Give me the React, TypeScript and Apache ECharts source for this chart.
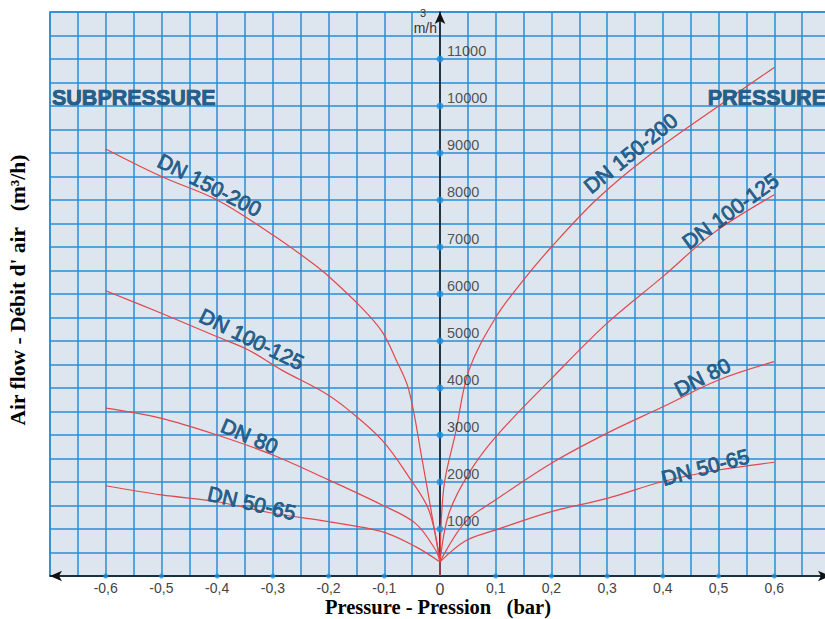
import React, { useEffect, useRef } from "react";
import * as echarts from "echarts";

// ---- tick values (labelled positions on the axes) ----
const xTickValues = [-0.6, -0.5, -0.4, -0.3, -0.2, -0.1, 0.1, 0.2, 0.3, 0.4, 0.5, 0.6];
const yTickValues = [1000, 2000, 3000, 4000, 5000, 6000, 7000, 8000, 9000, 10000, 11000];

// ---- pressure side curves [bar, m3/h] ----
const pressureDN150: number[][] = [
  [0, 300], [0.007, 1900], [0.028, 3050], [0.052, 4380], [0.1, 5500], [0.15, 6300],
  [0.2, 7000], [0.28, 8000], [0.37, 8900], [0.5, 10000], [0.6, 10820],
];
const pressureDN100: number[][] = [
  [0, 300], [0.016, 1330], [0.052, 2190], [0.1, 2960], [0.2, 4200], [0.3, 5380],
  [0.4, 6370], [0.49, 7290], [0.6, 8110],
];
const pressureDN80: number[][] = [
  [0, 300], [0.046, 1155], [0.1, 1620], [0.2, 2400], [0.3, 3040], [0.4, 3600],
  [0.5, 4170], [0.6, 4560],
];
const pressureDN50: number[][] = [
  [0, 300], [0.046, 750], [0.1, 980], [0.2, 1370], [0.3, 1650], [0.4, 2010],
  [0.5, 2255], [0.6, 2420],
];

// ---- subpressure side curves [bar, m3/h] ----
const subDN150: number[][] = [
  [-0.6, 9085], [-0.5, 8500], [-0.4, 8000], [-0.3, 7255], [-0.236, 6720], [-0.206, 6440],
  [-0.14, 5700], [-0.104, 5200], [-0.08, 4630], [-0.056, 3960], [-0.032, 2470],
  [-0.014, 1260], [0, 300],
];
const subDN100: number[][] = [
  [-0.6, 6070], [-0.5, 5590], [-0.4, 5090], [-0.344, 4810], [-0.284, 4380], [-0.206, 3890],
  [-0.164, 3530], [-0.104, 2890], [-0.056, 2110], [-0.02, 1400], [0, 300],
];
const subDN80: number[][] = [
  [-0.6, 3570], [-0.5, 3355], [-0.4, 3000], [-0.3, 2575], [-0.2, 2045], [-0.104, 1510],
  [-0.044, 1120], [-0.008, 553], [0, 300],
];
const subDN50: number[][] = [
  [-0.6, 1920], [-0.5, 1725], [-0.4, 1580], [-0.3, 1335], [-0.2, 1155], [-0.104, 945],
  [-0.044, 625], [0, 300],
];
const stem: number[][] = [[0, 0], [0, 300]];

// ---- curve names ----
const curveNames = ["DN 150-200", "DN 100-125", "DN 80", "DN 50-65"];

// ---- annotation anchors (data coords) and angles ----
const labelAnchors = [
  { text: curveNames[0], at: [-0.4135, 8320], angle: -27 },
  { text: curveNames[1], at: [-0.338, 5043], angle: -26 },
  { text: curveNames[2], at: [-0.342, 2979], angle: -23 },
  { text: curveNames[3], at: [-0.338, 1553], angle: -13 },
  { text: curveNames[0], at: [0.342, 9000], angle: 39 },
  { text: curveNames[1], at: [0.521, 7766], angle: 36 },
  { text: curveNames[2], at: [0.471, 4234], angle: 27 },
  { text: curveNames[3], at: [0.476, 2319], angle: 15 },
];

const GRID_BLUE = "#2a8cd6";
const CURVE_RED = "#e2474d";
const LABEL_FILL = "#21608f";
const LABEL_STROKE = "#0e395e";
const SANS = "Arial, 'Liberation Sans', Helvetica, sans-serif";
const SERIF = "'Liberation Serif', 'Times New Roman', serif";

function curve(data: number[][]) {
  return {
    type: "line",
    data,
    symbol: "none",
    showSymbol: false,
    smooth: 0.35,
    silent: true,
    z: 3,
    lineStyle: { color: CURVE_RED, width: 1.2 },
  };
}

function xLabel(v: number) {
  const h = Math.round(v * 100);
  if (h === 0) return "{z|0}";
  if (h % 10 !== 0 || Math.abs(h) > 60) return "";
  return (h / 100).toFixed(1).replace(".", ",");
}

export default function App() {
  const ref = useRef<HTMLDivElement>(null);

  useEffect(() => {
    if (!ref.current) return;
    const chart = echarts.init(ref.current, null, { renderer: "svg" });
    const option: any = {
      animation: false,
      backgroundColor: "#ffffff",
      grid: {
        left: 50,
        top: 12,
        right: -5,
        bottom: 43,
        containLabel: false,
        outerBoundsMode: "none",
        show: true,
        backgroundColor: "#dde6ee",
        borderColor: GRID_BLUE,
        borderWidth: 1.5,
      },
      xAxis: {
        type: "value",
        min: -0.7,
        max: 0.7,
        interval: 0.05,
        axisLine: {
          onZero: true,
          symbol: ["arrow", "arrow"],
          symbolSize: [8, 12],
          lineStyle: { color: "#111", width: 1.5 },
        },
        axisTick: { show: false },
        splitLine: { show: true, lineStyle: { color: GRID_BLUE, width: 1.5 } },
        axisLabel: {
          formatter: xLabel,
          color: "#444",
          fontSize: 14,
          fontFamily: SANS,
          margin: 5,
          rich: { z: { fontSize: 16, lineHeight: 16, color: "#444", fontFamily: SANS } },
        },
      },
      yAxis: {
        type: "value",
        min: 0,
        max: 12000,
        interval: 500,
        axisLine: {
          onZero: true,
          symbol: ["none", "arrow"],
          symbolSize: [8, 12],
          lineStyle: { color: "#111", width: 1.5 },
        },
        axisTick: { show: false },
        splitLine: { show: true, lineStyle: { color: GRID_BLUE, width: 1.5 } },
        axisLabel: { show: false },
      },
      series: [
        curve(pressureDN150),
        curve(pressureDN100),
        curve(pressureDN80),
        curve(pressureDN50),
        curve(subDN150),
        curve(subDN100),
        curve(subDN80),
        curve(subDN50),
        { ...curve(stem), smooth: false },
        {
          type: "scatter",
          data: xTickValues.map((v) => [v, 0]),
          symbolSize: 5,
          clip: false,
          silent: true,
          z: 4,
          itemStyle: { color: "#1b93e6" },
        },
        {
          type: "scatter",
          data: yTickValues.map((v) => [0, v]),
          symbolSize: 7,
          clip: false,
          silent: true,
          z: 4,
          itemStyle: { color: "#1b93e6" },
          label: {
            show: true,
            position: "right",
            distance: 3.5,
            offset: [0, -8],
            formatter: (p: any) => String(p.value[1]),
            color: "#2a2a2a",
            fontSize: 14.5,
            fontFamily: SANS,
          },
        },
      ],
    };
    chart.setOption(option);

    const toPx = (p: number[]) => chart.convertToPixel({ gridIndex: 0 }, p) as number[];
    const graphics: any[] = labelAnchors.map((l) => {
      const [px, py] = toPx(l.at);
      return {
        type: "text",
        x: px,
        y: py,
        rotation: (l.angle * Math.PI) / 180,
        z: 10,
        silent: true,
        style: {
          text: l.text,
          fill: LABEL_FILL,
          stroke: LABEL_STROKE,
          lineWidth: 0.7,
          font: `normal 21px ${SANS}`,
          align: "center",
          verticalAlign: "middle",
        },
      };
    });
    graphics.push(
      {
        type: "text", x: 52, y: 98, z: 10, silent: true,
        style: {
          text: "SUBPRESSURE", fill: LABEL_FILL, stroke: LABEL_STROKE, lineWidth: 0.7,
          font: `bold 21.5px ${SANS}`, align: "left", verticalAlign: "middle",
        },
      },
      {
        type: "text", x: 826, y: 98, z: 10, silent: true,
        style: {
          text: "PRESSURE", fill: LABEL_FILL, stroke: LABEL_STROKE, lineWidth: 0.7,
          font: `bold 21.5px ${SANS}`, align: "right", verticalAlign: "middle",
        },
      },
      {
        type: "text", x: 437, y: 28, z: 10, silent: true,
        style: { text: "m/h", fill: "#333", font: `14px ${SANS}`, align: "right", verticalAlign: "middle" },
      },
      {
        type: "text", x: 423, y: 13, z: 10, silent: true,
        style: { text: "3", fill: "#333", font: `11px ${SANS}`, align: "center", verticalAlign: "middle" },
      },
      {
        type: "text", x: 438, y: 607, z: 10, silent: true,
        style: {
          text: "Pressure - Pression   (bar)", fill: "#000",
          font: `bold 20.5px ${SERIF}`, align: "center", verticalAlign: "middle",
        },
      },
      {
        type: "text", x: 18, y: 290, z: 10, silent: true, rotation: Math.PI / 2,
        style: {
          text: "Air flow - Débit d' air   (m³/h)", fill: "#000",
          font: `bold 21.5px ${SERIF}`, align: "center", verticalAlign: "middle",
        },
      }
    );
    chart.setOption({ graphic: graphics });

    return () => chart.dispose();
  }, []);

  return (
    <div
      ref={ref}
      style={{ position: "fixed", left: 0, top: 0, width: 825, height: 619, background: "#fff" }}
    />
  );
}
